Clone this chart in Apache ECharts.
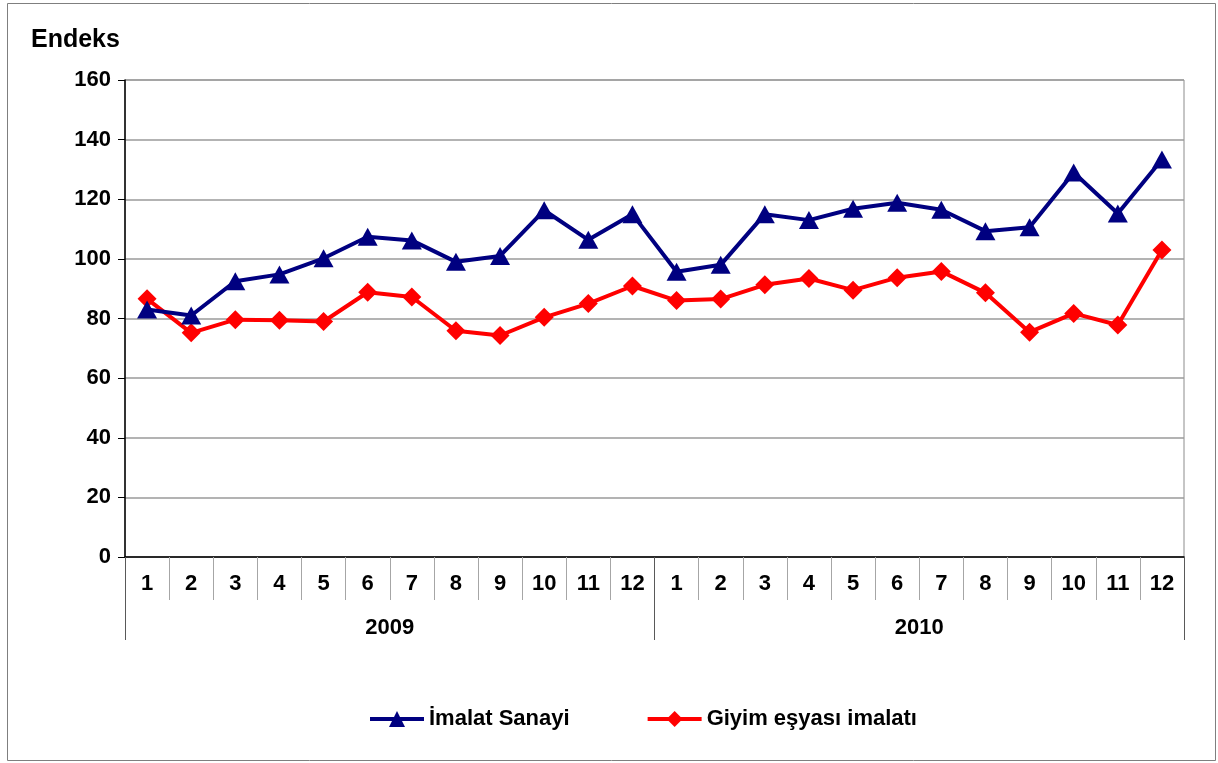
<!DOCTYPE html>
<html>
<head>
<meta charset="utf-8">
<script src="https://cdn.jsdelivr.net/npm/echarts@6/dist/echarts.min.js"></script>
<style>
  html, body { margin: 0; padding: 0; background: #fff; }
  #chart { width: 1218px; height: 763px; }
</style>
</head>
<body>
<div id="chart"></div>
<script>
const months = ['1','2','3','4','5','6','7','8','9','10','11','12','1','2','3','4','5','6','7','8','9','10','11','12'];
const years = ['2009','2010'];
const imalatSanayi = [83.0, 81.0, 92.5, 94.8, 100.2, 107.4, 106.2, 99.0, 101.0, 116.3, 106.4, 115.0,
                      95.7, 98.0, 115.0, 113.0, 116.8, 118.8, 116.5, 109.3, 110.6, 129.0, 115.2, 133.3];
const giyimEsyasi = [86.6, 75.2, 79.6, 79.4, 79.0, 88.8, 87.2, 75.9, 74.3, 80.4, 85.0, 90.9,
                     86.0, 86.5, 91.3, 93.4, 89.5, 93.7, 95.8, 88.6, 75.4, 81.7, 77.8, 103.0];
const yTicks = { min: 0, max: 160, interval: 20 };

const font = 'Liberation Sans, Arial, sans-serif';
const chart = echarts.init(document.getElementById('chart'), null, { renderer: 'canvas' });
chart.setOption({
  animation: false,
  backgroundColor: '#ffffff',
  graphic: [
    { type: 'rect', shape: { x: 7.5, y: 3.5, width: 1208, height: 757 },
      style: { fill: 'none', stroke: '#7f7f7f', lineWidth: 1 }, silent: true, z: -1 },
    { type: 'text', left: 31, top: 28,
      style: { text: 'Endeks', font: 'bold 25px ' + font, fill: '#000' } }
  ],
  grid: { left: 125, top: 80, right: 34, bottom: 206, show: true, borderColor: '#8c8c8c', borderWidth: 1 },
  legend: {
    left: 363, top: 703,
    itemWidth: 54, itemHeight: 20, itemGap: 76,
    lineStyle: { width: 4 },
    textStyle: { fontFamily: font, fontWeight: 'bold', fontSize: 22, color: '#000' },
    data: ['İmalat Sanayi', 'Giyim eşyası imalatı']
  },
  xAxis: [
    {
      type: 'category', data: months, position: 'bottom', boundaryGap: true,
      axisLine: { show: true, lineStyle: { color: '#000', width: 1.5 } },
      axisTick: { show: true, interval: 0, length: 43, lineStyle: { color: '#a6a6a6', width: 1 } },
      axisLabel: { interval: 0, margin: 16, fontFamily: font, fontWeight: 'bold', fontSize: 22, color: '#000' },
      splitLine: { show: false }
    },
    {
      type: 'category', data: years, position: 'bottom', boundaryGap: true,
      axisLine: { show: false },
      axisTick: { show: true, interval: 0, length: 83, lineStyle: { color: '#595959', width: 1 } },
      axisLabel: { interval: 0, margin: 60, fontFamily: font, fontWeight: 'bold', fontSize: 22, color: '#000' },
      splitLine: { show: false }
    }
  ],
  yAxis: {
    type: 'value', min: yTicks.min, max: yTicks.max, interval: yTicks.interval,
    axisLine: { show: true, lineStyle: { color: '#000', width: 1.5 } },
    axisTick: { show: true, length: 7, lineStyle: { color: '#000' } },
    axisLabel: { margin: 14, fontFamily: font, fontWeight: 'bold', fontSize: 22, color: '#000' },
    splitLine: { show: true, lineStyle: { color: '#9a9a9a', width: 1.5 } }
  },
  series: [
    {
      name: 'İmalat Sanayi', type: 'line', xAxisIndex: 0, data: imalatSanayi,
      symbol: 'triangle', symbolSize: [20, 18],
      lineStyle: { color: '#000080', width: 4 },
      itemStyle: { color: '#000080' }, z: 3
    },
    {
      name: 'Giyim eşyası imalatı', type: 'line', xAxisIndex: 0, data: giyimEsyasi,
      symbol: 'diamond', symbolSize: [19, 19],
      lineStyle: { color: '#ff0000', width: 4 },
      itemStyle: { color: '#ff0000' }, z: 2
    }
  ]
});
</script>
</body>
</html>
